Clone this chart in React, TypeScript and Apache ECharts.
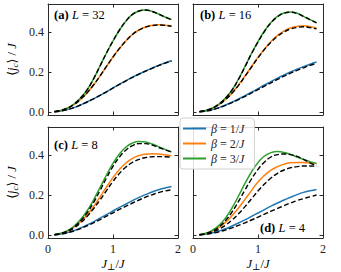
import React, { useEffect, useRef } from "react";
import * as echarts from "echarts";

const xs = [0.1, 0.2, 0.3, 0.4, 0.5, 0.6, 0.7, 0.8, 0.9, 1.0, 1.1, 1.2, 1.3, 1.4, 1.5, 1.6, 1.7, 1.8, 1.9];

const legendNames = ["β = 1/J", "β = 2/J", "β = 3/J"];
const panelTitles = ["(a)|32", "(b)|16", "(c)|8", "(d)|4"];
const xTicks = [0, 1, 2];
const yTicks = [0, 0.2, 0.4];

// panel (a) L = 32
const aBlue = [0.001, 0.005, 0.012, 0.022, 0.035, 0.05, 0.066, 0.083, 0.101, 0.12, 0.139, 0.157, 0.174, 0.19, 0.205, 0.219, 0.233, 0.245, 0.256];
const aOrange = [0.002, 0.008, 0.019, 0.037, 0.063, 0.095, 0.135, 0.18, 0.228, 0.275, 0.318, 0.356, 0.388, 0.41, 0.425, 0.433, 0.436, 0.434, 0.43];
const aGreen = [0.002, 0.008, 0.02, 0.04, 0.07, 0.11, 0.165, 0.23, 0.295, 0.355, 0.41, 0.455, 0.488, 0.505, 0.51, 0.503, 0.49, 0.475, 0.462];
const aBlueD = [0.001, 0.005, 0.012, 0.022, 0.035, 0.05, 0.066, 0.083, 0.101, 0.12, 0.138, 0.156, 0.173, 0.189, 0.204, 0.218, 0.232, 0.244, 0.255];
const aOrangeD = [0.002, 0.008, 0.019, 0.037, 0.063, 0.095, 0.135, 0.18, 0.228, 0.275, 0.318, 0.356, 0.388, 0.41, 0.424, 0.432, 0.435, 0.433, 0.429];
const aGreenD = [0.002, 0.008, 0.02, 0.04, 0.07, 0.11, 0.165, 0.23, 0.295, 0.355, 0.41, 0.455, 0.488, 0.505, 0.51, 0.503, 0.49, 0.475, 0.461];

// panel (b) L = 16
const bBlue = [0.001, 0.005, 0.012, 0.022, 0.035, 0.049, 0.065, 0.082, 0.099, 0.117, 0.135, 0.152, 0.169, 0.185, 0.2, 0.214, 0.227, 0.239, 0.25];
const bOrange = [0.002, 0.008, 0.019, 0.037, 0.063, 0.095, 0.135, 0.18, 0.227, 0.273, 0.315, 0.352, 0.383, 0.405, 0.42, 0.428, 0.431, 0.427, 0.42];
const bGreen = [0.002, 0.008, 0.02, 0.04, 0.07, 0.11, 0.165, 0.228, 0.293, 0.352, 0.405, 0.448, 0.478, 0.495, 0.5, 0.494, 0.478, 0.462, 0.447];
const bBlueD = [0.001, 0.005, 0.011, 0.021, 0.033, 0.047, 0.062, 0.078, 0.095, 0.112, 0.129, 0.146, 0.163, 0.179, 0.194, 0.208, 0.221, 0.233, 0.243];
const bOrangeD = [0.002, 0.008, 0.019, 0.037, 0.062, 0.094, 0.133, 0.178, 0.225, 0.271, 0.313, 0.349, 0.379, 0.4, 0.415, 0.423, 0.426, 0.422, 0.415];
const bGreenD = [0.002, 0.008, 0.02, 0.04, 0.069, 0.109, 0.163, 0.226, 0.291, 0.35, 0.403, 0.446, 0.476, 0.494, 0.499, 0.493, 0.478, 0.462, 0.446];

// panel (c) L = 8
const cBlue = [0.001, 0.005, 0.012, 0.022, 0.035, 0.05, 0.066, 0.084, 0.102, 0.12, 0.138, 0.155, 0.172, 0.188, 0.202, 0.215, 0.226, 0.235, 0.242];
const cOrange = [0.002, 0.008, 0.02, 0.039, 0.066, 0.1, 0.142, 0.19, 0.24, 0.287, 0.328, 0.36, 0.383, 0.397, 0.404, 0.406, 0.405, 0.401, 0.396];
const cGreen = [0.002, 0.009, 0.022, 0.044, 0.077, 0.12, 0.175, 0.237, 0.3, 0.358, 0.405, 0.44, 0.46, 0.467, 0.465, 0.455, 0.442, 0.428, 0.415];
const cBlueD = [0.001, 0.005, 0.011, 0.02, 0.032, 0.046, 0.061, 0.077, 0.094, 0.111, 0.128, 0.144, 0.16, 0.175, 0.189, 0.201, 0.212, 0.22, 0.226];
const cOrangeD = [0.002, 0.007, 0.018, 0.035, 0.06, 0.092, 0.131, 0.175, 0.222, 0.268, 0.308, 0.34, 0.363, 0.378, 0.387, 0.391, 0.392, 0.391, 0.389];
const cGreenD = [0.002, 0.008, 0.02, 0.04, 0.07, 0.11, 0.162, 0.222, 0.285, 0.343, 0.39, 0.425, 0.447, 0.457, 0.457, 0.45, 0.438, 0.426, 0.415];

// panel (d) L = 4
const dBlue = [0.001, 0.005, 0.011, 0.02, 0.031, 0.045, 0.06, 0.076, 0.093, 0.11, 0.127, 0.144, 0.16, 0.175, 0.189, 0.202, 0.213, 0.221, 0.228];
const dOrange = [0.002, 0.008, 0.02, 0.038, 0.063, 0.096, 0.135, 0.178, 0.222, 0.265, 0.298, 0.324, 0.342, 0.354, 0.361, 0.363, 0.362, 0.36, 0.358];
const dGreen = [0.002, 0.009, 0.024, 0.048, 0.085, 0.135, 0.195, 0.258, 0.315, 0.362, 0.395, 0.412, 0.417, 0.413, 0.403, 0.39, 0.378, 0.367, 0.358];
const dBlueD = [0.001, 0.004, 0.009, 0.016, 0.025, 0.036, 0.048, 0.061, 0.075, 0.089, 0.104, 0.119, 0.133, 0.147, 0.16, 0.172, 0.182, 0.191, 0.2];
const dOrangeD = [0.001, 0.006, 0.015, 0.029, 0.049, 0.075, 0.106, 0.142, 0.181, 0.22, 0.255, 0.285, 0.308, 0.325, 0.336, 0.342, 0.345, 0.345, 0.344];
const dGreenD = [0.002, 0.008, 0.02, 0.04, 0.072, 0.115, 0.168, 0.225, 0.28, 0.328, 0.365, 0.39, 0.402, 0.405, 0.402, 0.393, 0.378, 0.361, 0.345];

const panels = [
  { solid: [aBlue, aOrange, aGreen], dashed: [aBlueD, aOrangeD, aGreenD] },
  { solid: [bBlue, bOrange, bGreen], dashed: [bBlueD, bOrangeD, bGreenD] },
  { solid: [cBlue, cOrange, cGreen], dashed: [cBlueD, cOrangeD, cGreenD] },
  { solid: [dBlue, dOrange, dGreen], dashed: [dBlueD, dOrangeD, dGreenD] },
];

const COLORS = ["#1f77b4", "#ff7f0e", "#2ca02c"];
const FONT = "'Liberation Serif', 'DejaVu Serif', serif";
const FRAME = "#2a2a2a";

export default function App() {
  const ref = useRef<HTMLDivElement>(null);

  useEffect(() => {
    if (!ref.current) return;
    const chart = echarts.init(ref.current, null, { renderer: "svg" });

    const grids = [
      { left: 48, top: 4, width: 130, height: 111 },
      { left: 193, top: 4, width: 130, height: 111 },
      { left: 48, top: 127, width: 130, height: 111 },
      { left: 193, top: 127, width: 130, height: 111 },
    ];

    const xAxis: any[] = [];
    const yAxis: any[] = [];
    grids.forEach((_, p) => {
      const isBottom = p >= 2;
      const isLeft = p % 2 === 0;
      ["bottom", "top"].forEach((pos) => {
        xAxis.push({
          type: "value",
          gridIndex: p,
          position: pos,
          min: 0,
          max: 2,
          axisLine: { show: true, onZero: false, lineStyle: { color: FRAME, width: 1 } },
          axisTick: { show: true, inside: true, length: 3.5, customValues: xTicks, lineStyle: { color: FRAME } },
          axisLabel: {
            show: pos === "bottom" && isBottom,
            customValues: xTicks,
            margin: 5,
            fontFamily: FONT,
            fontSize: 12,
            color: "#222",
            formatter: (v: number) => String(Math.round(v)),
          },
          splitLine: { show: false },
        });
      });
      ["left", "right"].forEach((pos) => {
        yAxis.push({
          type: "value",
          gridIndex: p,
          position: pos,
          min: -0.015,
          max: 0.54,
          axisLine: { show: true, onZero: false, lineStyle: { color: FRAME, width: 1 } },
          axisTick: { show: true, inside: true, length: 3.5, customValues: yTicks, lineStyle: { color: FRAME } },
          axisLabel: {
            show: pos === "left" && isLeft,
            customValues: yTicks,
            margin: 4,
            fontFamily: FONT,
            fontSize: 12,
            color: "#222",
            formatter: (v: number) => v.toFixed(1),
          },
          splitLine: { show: false },
        });
      });
    });

    const pairs = (ys: number[]) => xs.map((x, i) => [x, ys[i]]);
    const series: any[] = [];
    panels.forEach((pd, p) => {
      pd.solid.forEach((ys, k) => {
        series.push({
          type: "line",
          name: legendNames[k],
          xAxisIndex: p * 2,
          yAxisIndex: p * 2,
          data: pairs(ys),
          smooth: true,
          showSymbol: false,
          lineStyle: { color: COLORS[k], width: 1.5 },
          itemStyle: { color: COLORS[k] },
          z: 2,
        });
      });
      pd.dashed.forEach((ys, k) => {
        series.push({
          type: "line",
          name: "dashed" + k,
          xAxisIndex: p * 2,
          yAxisIndex: p * 2,
          data: pairs(ys),
          smooth: true,
          showSymbol: false,
          lineStyle: { color: "#000", width: 1.4, type: [5, 2.5] },
          itemStyle: { color: "#000" },
          z: 3,
        });
      });
    });

    const titleRich = {
      b: { fontFamily: FONT, fontWeight: "bold", fontSize: 12.5, color: "#111" },
      i: { fontFamily: FONT, fontStyle: "italic", fontSize: 12.5, color: "#111" },
      n: { fontFamily: FONT, fontSize: 12.5, color: "#111" },
    };
    const titlePos = [
      { x: 54, y: 15 },
      { x: 200, y: 15 },
      { x: 54, y: 145 },
      { x: 260, y: 228 },
    ];
    const graphics: any[] = panelTitles.map((t, p) => {
      const [lab, num] = t.split("|");
      return {
        type: "text",
        x: titlePos[p].x,
        y: titlePos[p].y,
        z: 10,
        style: {
          text: `{b|${lab}} {i|L}{n| = ${num}}`,
          rich: titleRich,
          verticalAlign: "middle",
          align: "left",
        },
      };
    });

    const yLabRich = {
      n: { fontFamily: FONT, fontSize: 12.5, color: "#222" },
      i: { fontFamily: FONT, fontStyle: "italic", fontSize: 12.5, color: "#222" },
      s: { fontFamily: FONT, fontStyle: "italic", fontSize: 9, color: "#222", padding: [5, 0, 0, 0] },
    };
    [59.5, 182.5].forEach((cy) => {
      graphics.push({
        type: "text",
        x: 12,
        y: cy,
        rotation: Math.PI / 2,
        style: {
          text: "{n|⟨}{i|j}{s|c}{n|⟩ / }{i|J}",
          rich: yLabRich,
          align: "center",
          verticalAlign: "middle",
        },
      });
    });
    [113, 258].forEach((cx) => {
      graphics.push({
        type: "text",
        x: cx,
        y: 264,
        style: {
          text: "{i|J}{s|⊥}{n|/}{i|J}",
          rich: {
            n: { fontFamily: FONT, fontSize: 12.5, color: "#222" },
            i: { fontFamily: FONT, fontStyle: "italic", fontSize: 12.5, color: "#222" },
            s: { fontFamily: FONT, fontSize: 9, color: "#222", padding: [5, 0, 0, 0] },
          },
          align: "center",
          verticalAlign: "middle",
        },
      });
    });

    chart.setOption({
      animation: false,
      backgroundColor: "#fff",
      grid: grids,
      xAxis,
      yAxis,
      series,
      graphic: graphics,
      legend: {
        data: legendNames,
        orient: "vertical",
        left: 180,
        top: 118,
        padding: [4, 10, 4, 3],
        itemGap: 2,
        itemWidth: 23,
        itemHeight: 2,
        icon: "rect",
        backgroundColor: "rgba(255,255,255,0.85)",
        borderColor: "#d0d0d0",
        borderWidth: 1,
        borderRadius: 3,
        z: 20,
        formatter: (n: string) => `{i|β}{n| = ${n.slice(4, 5)}/}{i|J}`,
        textStyle: {
          fontFamily: FONT,
          fontSize: 12,
          color: "#222",
          lineHeight: 13,
          rich: {
            i: { fontFamily: FONT, fontStyle: "italic", fontSize: 12, color: "#222" },
            n: { fontFamily: FONT, fontSize: 12, color: "#222" },
          },
        },
      },
    });

    return () => chart.dispose();
  }, []);

  return (
    <div
      ref={ref}
      style={{ position: "fixed", left: 0, top: 0, width: 341, height: 272, background: "#fff" }}
    />
  );
}
